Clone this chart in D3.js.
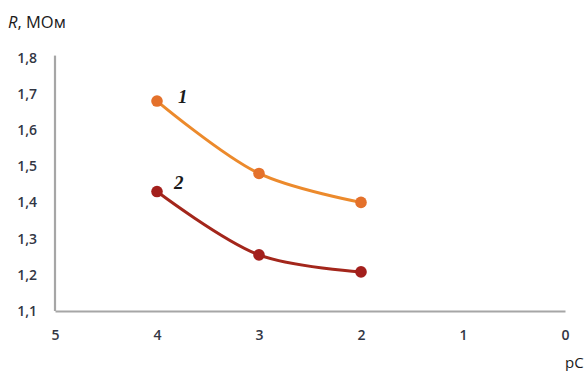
<!DOCTYPE html>
<html>
<head>
<meta charset="utf-8">
<script src="https://cdn.jsdelivr.net/npm/d3@7"></script>
<style>
  html, body { margin: 0; padding: 0; background: #fff; }
  svg { display: block; }
</style>
</head>
<body>
<svg id="chart" width="587" height="371"></svg>
<script>
// pC values (x axis runs from 5 down to 0)
const pC = [4, 3, 2];
// Resistance, MOhm
const series1 = [1.68, 1.48, 1.40];
const series2 = [1.43, 1.255, 1.208];
const seriesNames = ["1", "2"];
const xTicks = [5, 4, 3, 2, 1, 0];
const yTicks = [1.1, 1.2, 1.3, 1.4, 1.5, 1.6, 1.7, 1.8];

const svg = d3.select("#chart");
const x = d3.scaleLinear().domain([5, 0]).range([55, 565]);
const y = d3.scaleLinear().domain([1.1, 1.8]).range([311, 57.6]);

const fmt = d => d3.format(".1f")(d).replace(".", ",");

// axes
const yAxis = svg.append("g").attr("transform", "translate(55,0)")
  .call(d3.axisLeft(y).tickValues(yTicks).tickSize(0).tickPadding(18).tickFormat(fmt));
const xAxis = svg.append("g").attr("transform", "translate(0,311)")
  .call(d3.axisBottom(x).tickValues(xTicks).tickSize(0).tickPadding(19).tickFormat(d3.format("d")));

[yAxis, xAxis].forEach(g => {
  g.select(".domain").attr("stroke", "#a6a6a6").attr("stroke-width", 2.2);
  g.selectAll("text")
    .attr("fill", "#323644")
    .attr("font-family", "'Open Sans', sans-serif")
    .attr("font-size", 14)
    .attr("font-weight", 600);
});
yAxis.select(".domain").attr("d", `M0,${y(1.8) - 2}V${y(1.1)}`);

// axis titles
const title = svg.append("text").attr("x", 8).attr("y", 28)
  .attr("font-family", "'Open Sans', sans-serif").attr("font-size", 16.5).attr("fill", "#1a1a1a");
title.append("tspan").attr("font-style", "italic").text("R");
title.append("tspan").text(", МОм");

svg.append("text").attr("x", 565).attr("y", 368)
  .attr("font-family", "'Open Sans', sans-serif").attr("font-size", 15).attr("fill", "#1a1a1a")
  .text("pC");

// data lines
const line = d3.line().x(d => x(d[0])).y(d => y(d[1])).curve(d3.curveCatmullRom.alpha(0.5));

const seriesData = [
  { name: seriesNames[0], values: series1, line: "#ec8a2c", dot: "#e4712b", lx: 178, ly: 103 },
  { name: seriesNames[1], values: series2, line: "#a3261b", dot: "#a31f1c", lx: 174, ly: 189 }
];

seriesData.forEach(s => {
  const pts = pC.map((p, i) => [p, s.values[i]]);
  svg.append("path").datum(pts)
    .attr("d", line).attr("fill", "none")
    .attr("stroke", s.line).attr("stroke-width", 3);
  svg.selectAll(null).data(pts).enter().append("circle")
    .attr("cx", d => x(d[0])).attr("cy", d => y(d[1])).attr("r", 5.8)
    .attr("fill", s.dot);
  svg.append("text").attr("x", s.lx).attr("y", s.ly)
    .attr("font-family", "'Liberation Serif', serif").attr("font-size", 19)
    .attr("font-style", "italic").attr("font-weight", "bold").attr("fill", "#1a1a1a")
    .text(s.name);
});
</script>
</body>
</html>
